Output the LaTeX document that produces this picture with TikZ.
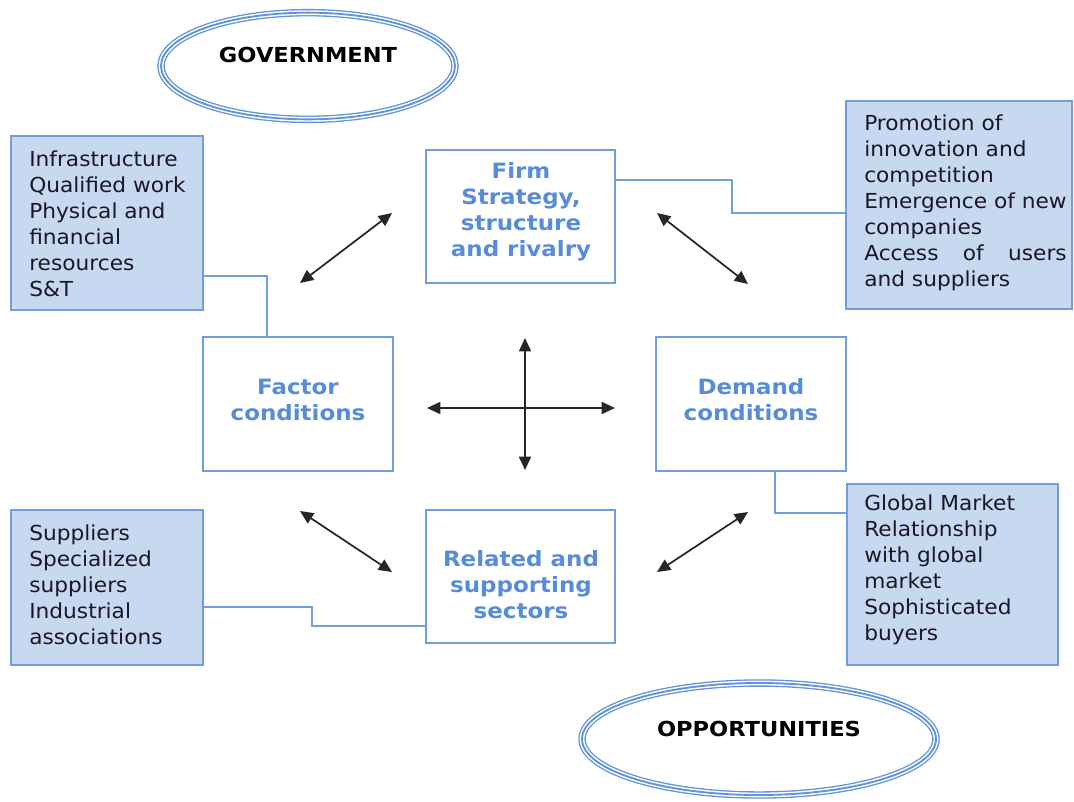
\documentclass[tikz,border=0pt]{standalone}
\usepackage{fontspec}
\setmainfont{DejaVu Sans}[FakeStretch=1.05, BoldFeatures={FakeStretch=1.09}]
\usetikzlibrary{arrows.meta,calc,shapes.geometric}

\definecolor{boxfill}{RGB}{198,217,240}
\definecolor{boxline}{RGB}{112,158,222}
\definecolor{titleblue}{RGB}{88,140,216}
\definecolor{bodytext}{RGB}{28,22,40}
\definecolor{ovalblue}{RGB}{96,148,218}

\tikzset{
  sidebox/.style={draw=boxline, fill=boxfill, line width=1.5pt, inner sep=0pt},
  sidetext/.style={anchor=west, align=left, inner sep=0pt, text=bodytext,
    font=\fontsize{15.5pt}{19.5pt}\selectfont},
  corebox/.style={draw=boxline, fill=white, line width=1.5pt, inner sep=0pt},
  coretext/.style={align=center, inner sep=0pt, text=titleblue,
    font=\fontsize{15.8pt}{19.5pt}\selectfont\bfseries},
  oval/.style={ellipse, inner sep=0pt, draw=ovalblue, line width=5.6pt,
    postaction={draw=white, line width=3.6pt},
    postaction={draw=ovalblue, line width=1.4pt}},
  ovaltext/.style={inner sep=0pt, text=black, font=\fontsize{15.5pt}{19.5pt}\selectfont\bfseries},
  link/.style={draw=boxline, line width=1.3pt},
  twoway/.style={draw=black!85, line width=1.3pt, {Triangle[length=10pt,width=9pt]}-{Triangle[length=10pt,width=9pt]}}
}

\begin{document}
\begin{tikzpicture}[x=0.75pt, y=-0.75pt]
\useasboundingbox (0,0) rectangle (1074,801);

% ovals
\node[oval, minimum width=220.5pt, minimum height=80pt] (govOval) at (308,66) {};
\node[ovaltext] (govText) at (308,55) {GOVERNMENT};
\node[oval, minimum width=265.5pt, minimum height=84pt] (oppOval) at (759,739) {};
\node[ovaltext] (oppText) at (759,729) {OPPORTUNITIES};

% the four determinants
\node[corebox, minimum width=141.75pt, minimum height=99.75pt] (firmBox) at (520.5,216.5) {};
\node[coretext] (firmText) at (521,212) {Firm\\Strategy,\\structure\\and rivalry};
\node[corebox, minimum width=142.5pt, minimum height=100.5pt] (factorBox) at (298,404) {};
\node[coretext] (factorText) at (298,400) {Factor\\conditions};
\node[corebox, minimum width=142.5pt, minimum height=100.5pt] (demandBox) at (751,404) {};
\node[coretext] (demandText) at (751,400) {Demand\\conditions};
\node[corebox, minimum width=141.75pt, minimum height=99.75pt] (relatedBox) at (520.5,576.5) {};
\node[coretext] (relatedText) at (521,585) {Related and\\supporting\\sectors};

% side notes
\node[sidebox, minimum width=144pt, minimum height=130.5pt] (infraBox) at (107,223) {};
\node[sidetext] (infraText) at (29,224) {Infrastructure\\Qualified work\\Physical and\\financial\\resources\\S\&T};
\node[sidebox, minimum width=169.5pt, minimum height=156pt] (promoBox) at (959,205) {};
\node[sidetext] (promoText) at (864,203) {Promotion of\\innovation and\\competition\\Emergence of new\\companies\\\setbox0\hbox{Emergence of new}\hbox to\wd0{Access\hfill of\hfill users}\\and suppliers};
\node[sidebox, minimum width=158.25pt, minimum height=135.75pt] (globalBox) at (952.5,574.5) {};
\node[sidetext] (globalText) at (864,570) {Global Market\\Relationship\\with global\\market\\Sophisticated\\buyers};
\node[sidebox, minimum width=144pt, minimum height=116.25pt] (suppliersBox) at (107,587.5) {};
\node[sidetext] (suppliersText) at (29,585) {Suppliers\\Specialized\\suppliers\\Industrial\\associations};

% elbow connectors from the notes
\draw[link] ($(infraBox.south east)+(0,-35)$) -| ($(factorBox.north)+(-31,0)$);
\draw[link] ($(firmBox.east)+(0,-36.5)$) -| ($(promoBox.west)+(-113,8)$) -- ($(promoBox.west)+(0,8)$);
\draw[link] ($(demandBox.south)+(24,0)$) |- ($(globalBox.west)+(0,-61.5)$);
\draw[link] ($(suppliersBox.east)+(0,19.5)$) -| ($(relatedBox.west)+(-113,49.5)$) -- ($(relatedBox.west)+(0,49.5)$);

% interaction arrows
\coordinate (ulA) at (300,283);  \coordinate (ulB) at (392,213);
\coordinate (urA) at (657,213);  \coordinate (urB) at (748,284);
\coordinate (llA) at (300,511);  \coordinate (llB) at (392,572);
\coordinate (lrA) at (657,572);  \coordinate (lrB) at (748,512);
\coordinate (crossW) at (427,408); \coordinate (crossE) at (615,408);
\coordinate (crossN) at (525,338); \coordinate (crossS) at (525,470);
\draw[twoway] (ulA) -- (ulB);
\draw[twoway] (urA) -- (urB);
\draw[twoway] (llA) -- (llB);
\draw[twoway] (lrA) -- (lrB);
\draw[twoway] (crossW) -- (crossE);
\draw[twoway] (crossN) -- (crossS);
\end{tikzpicture}
\end{document}
